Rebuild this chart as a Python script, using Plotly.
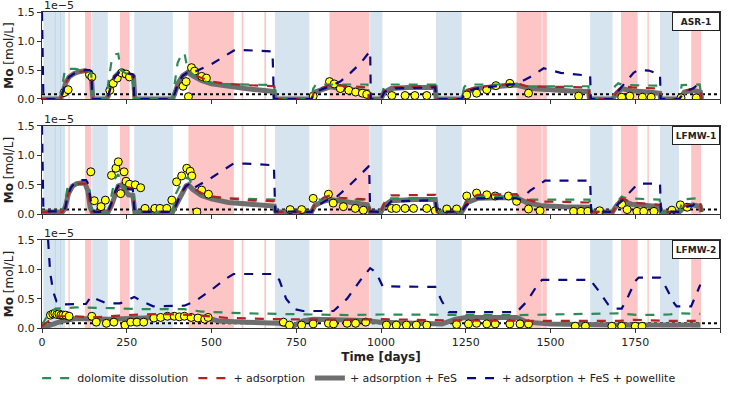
import plotly.graph_objects as go

# ---------------- data (Mo in units of 1e-5 mol/L, time in days) ----------------
wells = ["ASR-1", "LFMW-1", "LFMW-2"]

blue_band_start = [4, 38, 53, 148, 272, 687, 968, 1162, 1617, 1823]
blue_band_end = [40, 55, 68, 194, 386, 789, 1004, 1238, 1683, 1879]
red_band_start = [78, 127, 230, 432, 589, 656, 848, 1400, 1476, 1708, 1786, 1915]
red_band_end = [82, 145, 258, 566, 594, 661, 966, 1474, 1489, 1757, 1790, 1944]

detection_limit = 0.08

# ASR-1
asr1_dol_t = [0, 55, 62, 68, 100, 110, 128, 145, 150, 190, 196, 205, 215, 225, 232, 245, 265, 274, 385, 393, 400, 410, 420, 428, 440, 460, 490, 520, 600, 685, 688, 795, 800, 808, 960, 965, 1000, 1008, 1015, 1160, 1163, 1238, 1245, 1252, 1400, 1410, 1612, 1615, 1683, 1690, 1700, 1715, 1822, 1825, 1880, 1887, 1940, 1946]
asr1_dol_v = [0, 0, 0.3, 0.52, 0.52, 0.5, 0.5, 0.45, 0, 0, 0.3, 0.65, 0.77, 0.78, 0.5, 0.45, 0.4, 0, 0, 0.3, 0.62, 0.75, 0.8, 0.55, 0.45, 0.35, 0.28, 0.26, 0.25, 0.24, 0, 0, 0.18, 0.25, 0.25, 0, 0, 0.2, 0.25, 0.25, 0, 0, 0.2, 0.25, 0.25, 0.22, 0.22, 0, 0, 0.22, 0.27, 0.24, 0.23, 0, 0, 0.24, 0.25, 0]
asr1_ads_t = [0, 55, 62, 70, 80, 95, 110, 128, 145, 150, 190, 195, 205, 215, 228, 238, 250, 265, 274, 385, 392, 402, 415, 430, 445, 470, 500, 550, 600, 685, 688, 795, 805, 830, 850, 880, 960, 965, 1000, 1010, 1030, 1160, 1163, 1238, 1250, 1280, 1400, 1430, 1612, 1615, 1683, 1695, 1710, 1740, 1822, 1825, 1880, 1895, 1920, 1942, 1946]
asr1_ads_v = [0, 0, 0.12, 0.28, 0.38, 0.44, 0.47, 0.48, 0.45, 0, 0, 0.05, 0.25, 0.38, 0.46, 0.47, 0.44, 0.42, 0, 0, 0.1, 0.28, 0.4, 0.46, 0.42, 0.36, 0.3, 0.26, 0.24, 0.22, 0, 0, 0.15, 0.2, 0.25, 0.23, 0.2, 0, 0, 0.15, 0.2, 0.22, 0, 0, 0.15, 0.2, 0.27, 0.22, 0.2, 0, 0, 0.12, 0.22, 0.2, 0.18, 0, 0, 0.14, 0.18, 0.17, 0]
asr1_fes_t = [0, 55, 62, 70, 80, 95, 110, 128, 140, 146, 150, 190, 195, 205, 215, 228, 238, 250, 262, 270, 274, 385, 392, 402, 415, 430, 445, 470, 500, 550, 600, 650, 685, 688, 795, 805, 830, 850, 880, 920, 960, 965, 1000, 1010, 1030, 1080, 1160, 1163, 1238, 1250, 1280, 1350, 1400, 1440, 1500, 1560, 1612, 1615, 1683, 1695, 1710, 1740, 1790, 1822, 1825, 1880, 1895, 1920, 1942, 1946]
asr1_fes_v = [0, 0, 0.12, 0.28, 0.38, 0.44, 0.47, 0.49, 0.46, 0.35, 0, 0, 0.05, 0.25, 0.38, 0.46, 0.48, 0.42, 0.4, 0.38, 0, 0, 0.1, 0.28, 0.4, 0.46, 0.4, 0.32, 0.26, 0.21, 0.18, 0.15, 0.13, 0, 0, 0.12, 0.17, 0.21, 0.18, 0.15, 0.13, 0, 0, 0.12, 0.18, 0.2, 0.2, 0, 0, 0.12, 0.18, 0.22, 0.24, 0.18, 0.15, 0.14, 0.13, 0, 0, 0.1, 0.18, 0.14, 0.12, 0.1, 0, 0, 0.12, 0.15, 0.12, 0]
asr1_pow_t = [0, 4, 55, 62, 70, 80, 95, 110, 128, 140, 146, 148, 190, 195, 205, 215, 228, 238, 250, 265, 270, 272, 385, 392, 402, 415, 430, 440, 500, 570, 600, 680, 684, 795, 805, 830, 850, 880, 910, 940, 968, 970, 1000, 1010, 1030, 1160, 1163, 1238, 1250, 1280, 1350, 1400, 1440, 1480, 1500, 1530, 1617, 1619, 1683, 1695, 1720, 1745, 1758, 1790, 1823, 1825, 1880, 1895, 1920, 1942]
asr1_pow_v = [1.5, 0, 0, 0.12, 0.28, 0.38, 0.44, 0.47, 0.5, 0.5, 0.48, 0, 0, 0.05, 0.25, 0.38, 0.46, 0.48, 0.45, 0.43, 0.42, 0, 0, 0.1, 0.28, 0.4, 0.46, 0.44, 0.6, 0.85, 0.84, 0.82, 0, 0, 0.12, 0.17, 0.22, 0.3, 0.45, 0.62, 0.83, 0, 0, 0.12, 0.18, 0.2, 0, 0, 0.12, 0.18, 0.22, 0.26, 0.38, 0.53, 0.5, 0.45, 0.4, 0, 0, 0.1, 0.28, 0.45, 0.5, 0.49, 0.42, 0, 0, 0.12, 0.18, 0.28]
asr1_obs_t = [65, 77, 140, 147, 200, 210, 222, 235, 248, 258, 416, 425, 432, 441, 450, 471, 485, 800, 848, 862, 880, 905, 925, 945, 958, 1032, 1071, 1100, 1135, 1253, 1282, 1312, 1339, 1380, 1435, 1583, 1710, 1734, 1771, 1797, 1885, 1930]
asr1_obs_v = [0.11, 0.16, 0.42, 0.38, 0.15, 0.27, 0.36, 0.45, 0.43, 0.38, 0.22, 0.3, 0.04, 0.54, 0.48, 0.39, 0.36, 0.05, 0.3, 0.26, 0.18, 0.15, 0.12, 0.1, 0.08, 0.06, 0.06, 0.06, 0.06, 0.07, 0.1, 0.16, 0.23, 0.27, 0.1, 0.05, 0.03, 0.05, 0.03, 0.03, 0.02, 0.02]

# LFMW-1
lfmw1_dol_t = [0, 60, 68, 75, 85, 130, 140, 148, 195, 205, 215, 225, 232, 245, 268, 274, 385, 395, 410, 425, 435, 445, 470, 500, 550, 685, 690, 795, 802, 810, 960, 968, 1000, 1010, 1020, 1160, 1165, 1238, 1250, 1260, 1400, 1410, 1615, 1620, 1683, 1695, 1710, 1725, 1822, 1826, 1880, 1890, 1930, 1942, 1946]
lfmw1_dol_v = [0.04, 0.04, 0.2, 0.45, 0.5, 0.52, 0.45, 0.04, 0.04, 0.35, 0.6, 0.68, 0.55, 0.45, 0.42, 0.04, 0.04, 0.35, 0.52, 0.62, 0.6, 0.45, 0.35, 0.3, 0.27, 0.25, 0.04, 0.04, 0.2, 0.25, 0.25, 0.04, 0.04, 0.2, 0.27, 0.27, 0.04, 0.04, 0.22, 0.3, 0.3, 0.25, 0.25, 0.04, 0.04, 0.2, 0.3, 0.27, 0.25, 0.04, 0.04, 0.25, 0.27, 0.25, 0.04]
lfmw1_ads_t = [0, 60, 68, 78, 90, 102, 127, 135, 142, 148, 195, 205, 215, 225, 235, 245, 260, 268, 274, 385, 395, 410, 425, 432, 445, 470, 500, 550, 600, 685, 690, 795, 805, 830, 850, 880, 960, 968, 1000, 1010, 1030, 1160, 1165, 1238, 1255, 1285, 1400, 1410, 1450, 1615, 1620, 1683, 1695, 1710, 1740, 1822, 1826, 1880, 1895, 1920, 1942, 1946]
lfmw1_ads_v = [0.04, 0.04, 0.12, 0.35, 0.48, 0.52, 0.52, 0.45, 0.15, 0.04, 0.04, 0.15, 0.35, 0.48, 0.5, 0.47, 0.45, 0.43, 0.04, 0.04, 0.15, 0.35, 0.48, 0.5, 0.44, 0.36, 0.3, 0.27, 0.24, 0.22, 0.04, 0.04, 0.18, 0.28, 0.32, 0.28, 0.25, 0.04, 0.04, 0.2, 0.32, 0.33, 0.04, 0.04, 0.25, 0.33, 0.34, 0.28, 0.22, 0.2, 0.04, 0.04, 0.15, 0.27, 0.2, 0.16, 0.04, 0.04, 0.14, 0.18, 0.17, 0.04]
lfmw1_fes_t = [0, 60, 68, 78, 90, 102, 115, 127, 135, 142, 148, 195, 205, 215, 225, 235, 245, 255, 268, 274, 385, 395, 410, 425, 432, 445, 470, 500, 550, 600, 650, 685, 690, 795, 805, 830, 850, 880, 920, 960, 968, 1000, 1010, 1030, 1100, 1160, 1165, 1238, 1255, 1285, 1350, 1400, 1430, 1470, 1540, 1615, 1620, 1683, 1695, 1710, 1740, 1790, 1822, 1826, 1880, 1895, 1920, 1942, 1946]
lfmw1_fes_v = [0.04, 0.04, 0.1, 0.35, 0.48, 0.52, 0.53, 0.52, 0.4, 0.12, 0.04, 0.04, 0.15, 0.35, 0.48, 0.5, 0.42, 0.33, 0.32, 0.04, 0.04, 0.15, 0.35, 0.48, 0.5, 0.42, 0.32, 0.26, 0.2, 0.17, 0.15, 0.14, 0.04, 0.04, 0.15, 0.22, 0.25, 0.22, 0.18, 0.16, 0.04, 0.04, 0.15, 0.23, 0.25, 0.25, 0.04, 0.04, 0.2, 0.27, 0.28, 0.28, 0.2, 0.15, 0.13, 0.12, 0.04, 0.04, 0.15, 0.24, 0.17, 0.14, 0.13, 0.04, 0.04, 0.12, 0.16, 0.13, 0.04]
lfmw1_pow_t = [0, 4, 60, 68, 75, 85, 100, 115, 130, 138, 142, 148, 155, 195, 205, 215, 225, 235, 245, 258, 268, 272, 275, 385, 395, 410, 425, 432, 440, 500, 565, 600, 684, 688, 795, 805, 840, 870, 900, 930, 965, 968, 1000, 1010, 1030, 1160, 1165, 1238, 1250, 1285, 1400, 1410, 1440, 1484, 1617, 1620, 1683, 1695, 1710, 1735, 1758, 1823, 1826, 1880, 1895, 1920, 1942]
lfmw1_pow_v = [1.5, 0.05, 0.05, 0.08, 0.3, 0.45, 0.55, 0.58, 0.58, 0.5, 0.3, 0.1, 0.04, 0.04, 0.2, 0.38, 0.48, 0.5, 0.45, 0.42, 0.42, 0.1, 0.04, 0.04, 0.15, 0.35, 0.48, 0.5, 0.42, 0.62, 0.86, 0.86, 0.83, 0.05, 0.04, 0.12, 0.24, 0.3, 0.45, 0.62, 0.82, 0.05, 0.04, 0.1, 0.22, 0.24, 0.05, 0.04, 0.15, 0.27, 0.27, 0.25, 0.4, 0.57, 0.57, 0.05, 0.04, 0.15, 0.22, 0.38, 0.52, 0.52, 0.05, 0.04, 0.12, 0.15, 0.28]
lfmw1_obs_t = [144, 154, 174, 187, 205, 218, 225, 232, 242, 248, 258, 275, 291, 304, 333, 348, 368, 383, 397, 412, 427, 437, 442, 457, 471, 491, 732, 766, 800, 845, 859, 889, 924, 948, 1031, 1045, 1071, 1096, 1135, 1160, 1194, 1223, 1253, 1282, 1312, 1337, 1376, 1400, 1435, 1469, 1568, 1590, 1610, 1645, 1710, 1726, 1755, 1775, 1805, 1858, 1883, 1903]
lfmw1_obs_v = [0.72, 0.23, 0.13, 0.24, 0.66, 0.78, 0.89, 0.35, 0.72, 0.56, 0.51, 0.5, 0.45, 0.1, 0.1, 0.1, 0.1, 0.24, 0.55, 0.65, 0.78, 0.73, 0.65, 0.04, 0.41, 0.34, 0.08, 0.08, 0.27, 0.34, 0.19, 0.13, 0.1, 0.07, 0.1, 0.1, 0.1, 0.1, 0.1, 0.06, 0.09, 0.09, 0.31, 0.36, 0.33, 0.31, 0.31, 0.22, 0.09, 0.06, 0.05, 0.05, 0.05, 0.06, 0.17, 0.08, 0.05, 0.05, 0.05, 0.07, 0.16, 0.12]

# LFMW-2
lfmw2_dol_t = [0, 20, 40, 100, 200, 300, 420, 470, 600, 750, 900, 1000, 1200, 1400, 1500, 1650, 1700, 1760, 1850, 1880, 1942]
lfmw2_dol_v = [0.05, 0.25, 0.33, 0.35, 0.34, 0.32, 0.32, 0.28, 0.25, 0.24, 0.22, 0.23, 0.22, 0.22, 0.23, 0.24, 0.25, 0.22, 0.23, 0.25, 0.24]
lfmw2_ads_t = [0, 20, 50, 100, 150, 250, 350, 450, 550, 700, 900, 1000, 1200, 1400, 1500, 1700, 1750, 1850, 1942]
lfmw2_ads_v = [0.03, 0.12, 0.2, 0.2, 0.18, 0.22, 0.24, 0.22, 0.17, 0.15, 0.14, 0.15, 0.13, 0.12, 0.12, 0.12, 0.14, 0.12, 0.12]
lfmw2_fes_t = [0, 30, 60, 100, 200, 300, 400, 480, 520, 600, 700, 740, 770, 800, 950, 1000, 1180, 1220, 1250, 1400, 1430, 1500, 1700, 1942]
lfmw2_fes_v = [0.0, 0.05, 0.12, 0.16, 0.15, 0.17, 0.2, 0.18, 0.12, 0.1, 0.08, 0.03, 0.12, 0.15, 0.13, 0.1, 0.07, 0.15, 0.18, 0.18, 0.1, 0.07, 0.05, 0.05]
lfmw2_pow_t = [18, 24, 33, 43, 53, 130, 145, 165, 191, 230, 250, 272, 300, 328, 420, 450, 500, 540, 565, 682, 700, 720, 745, 770, 860, 900, 940, 968, 985, 1005, 1160, 1180, 1200, 1400, 1430, 1460, 1475, 1617, 1640, 1670, 1690, 1710, 1730, 1750, 1760, 1823, 1840, 1865, 1872, 1915, 1942]
lfmw2_pow_v = [1.5, 0.95, 0.62, 0.45, 0.4, 0.41, 0.54, 0.48, 0.42, 0.42, 0.47, 0.53, 0.44, 0.37, 0.38, 0.45, 0.65, 0.83, 0.92, 0.92, 0.82, 0.5, 0.32, 0.29, 0.29, 0.5, 0.82, 1.02, 0.95, 0.71, 0.7, 0.45, 0.27, 0.27, 0.45, 0.72, 0.82, 0.82, 0.65, 0.4, 0.33, 0.33, 0.55, 0.8, 0.86, 0.86, 0.7, 0.42, 0.37, 0.37, 0.74]
lfmw2_obs_t = [25, 32, 38, 44, 50, 56, 62, 70, 80, 147, 160, 190, 212, 245, 262, 280, 300, 330, 350, 370, 390, 405, 420, 440, 460, 480, 490, 712, 730, 766, 800, 845, 860, 900, 925, 955, 1016, 1045, 1075, 1104, 1135, 1223, 1258, 1282, 1312, 1337, 1380, 1410, 1435, 1573, 1603, 1681, 1710, 1750, 1770]
lfmw2_obs_v = [0.22, 0.24, 0.25, 0.23, 0.24, 0.22, 0.22, 0.22, 0.2, 0.2, 0.1, 0.08, 0.1, 0.05, 0.1, 0.1, 0.1, 0.17, 0.18, 0.2, 0.2, 0.19, 0.2, 0.18, 0.17, 0.15, 0.18, 0.1, 0.05, 0.05, 0.07, 0.08, 0.07, 0.08, 0.08, 0.1, 0.05, 0.05, 0.05, 0.05, 0.05, 0.06, 0.07, 0.08, 0.07, 0.07, 0.07, 0.07, 0.07, 0.03, 0.03, 0.03, 0.03, 0.03, 0.03]

series = [
    dict(dol=(asr1_dol_t, asr1_dol_v), ads=(asr1_ads_t, asr1_ads_v), fes=(asr1_fes_t, asr1_fes_v),
         pow=(asr1_pow_t, asr1_pow_v), obs=(asr1_obs_t, asr1_obs_v)),
    dict(dol=(lfmw1_dol_t, lfmw1_dol_v), ads=(lfmw1_ads_t, lfmw1_ads_v), fes=(lfmw1_fes_t, lfmw1_fes_v),
         pow=(lfmw1_pow_t, lfmw1_pow_v), obs=(lfmw1_obs_t, lfmw1_obs_v)),
    dict(dol=(lfmw2_dol_t, lfmw2_dol_v), ads=(lfmw2_ads_t, lfmw2_ads_v), fes=(lfmw2_fes_t, lfmw2_fes_v),
         pow=(lfmw2_pow_t, lfmw2_pow_v), obs=(lfmw2_obs_t, lfmw2_obs_v)),
]

legend_names = ["dolomite dissolution", "+ adsorption", "+ adsorption + FeS", "+ adsorption + FeS + powellite"]
x_ticks = [0, 250, 500, 750, 1000, 1250, 1500, 1750, 2000]
y_ticks = [0.0, 0.5, 1.0, 1.5]

# ---------------- styling ----------------
GREEN = "#2e8b57"
RED = "#b22222"
GRAY = "#6e6e6e"
NAVY = "#0a0a80"
FONT = "DejaVu Sans"
AXC = "#333333"

domains = [[0.7247, 1.0], [0.3598, 0.640], [0.0, 0.2785]]

fig = go.Figure()
shapes = []
annotations = []

for i, s in enumerate(series):
    xa = "x" if i == 0 else f"x{i+1}"
    ya = "y" if i == 0 else f"y{i+1}"
    for a, b in zip(blue_band_start, blue_band_end):
        shapes.append(dict(type="rect", xref=xa, yref=f"{ya} domain", x0=a, x1=b, y0=0, y1=1,
                           fillcolor="rgba(70,130,180,0.22)", line_width=0, layer="below"))
    for a, b in zip(red_band_start, red_band_end):
        shapes.append(dict(type="rect", xref=xa, yref=f"{ya} domain", x0=a, x1=b, y0=0, y1=1,
                           fillcolor="rgba(250,110,110,0.40)", line_width=0, layer="below"))
    show = (i == 0)
    fig.add_trace(go.Scatter(x=[0, 2000], y=[detection_limit, detection_limit], xaxis=xa, yaxis=ya,
                             mode="lines", line=dict(color="black", width=2, dash="dot"),
                             showlegend=False, hoverinfo="skip"))
    fig.add_trace(go.Scatter(x=s["fes"][0], y=s["fes"][1], xaxis=xa, yaxis=ya, mode="lines",
                             line=dict(color=GRAY, width=5), name=legend_names[2],
                             showlegend=show, legendrank=3))
    fig.add_trace(go.Scatter(x=s["obs"][0], y=s["obs"][1], xaxis=xa, yaxis=ya, mode="markers",
                             marker=dict(color="#ffff1a", size=8, line=dict(color="black", width=1)),
                             showlegend=False))
    fig.add_trace(go.Scatter(x=s["dol"][0], y=s["dol"][1], xaxis=xa, yaxis=ya, mode="lines",
                             line=dict(color=GREEN, width=2.2, dash="dash"), name=legend_names[0],
                             showlegend=show, legendrank=1))
    fig.add_trace(go.Scatter(x=s["ads"][0], y=s["ads"][1], xaxis=xa, yaxis=ya, mode="lines",
                             line=dict(color=RED, width=2.2, dash="dash"), name=legend_names[1],
                             showlegend=show, legendrank=2))
    fig.add_trace(go.Scatter(x=s["pow"][0], y=s["pow"][1], xaxis=xa, yaxis=ya, mode="lines",
                             line=dict(color=NAVY, width=2.2, dash="dash"), name=legend_names[3],
                             showlegend=show, legendrank=4))
    annotations.append(dict(text="1e\u22125", xref="paper", yref="paper", x=0, y=domains[i][1],
                            xanchor="left", yanchor="bottom", showarrow=False, yshift=-2,
                            font=dict(family=FONT, size=11, color="#222")))
    annotations.append(dict(text=f"<b>{wells[i]}</b>", xref="paper", yref="paper", x=1, y=domains[i][1],
                            xanchor="right", yanchor="top", showarrow=False, bgcolor="white",
                            bordercolor="#222", borderwidth=1, borderpad=1, width=44, height=15,
                            font=dict(family=FONT, size=9, color="#222")))

layout_axes = {}
for i in range(3):
    xk = "xaxis" if i == 0 else f"xaxis{i+1}"
    yk = "yaxis" if i == 0 else f"yaxis{i+1}"
    layout_axes[xk] = dict(domain=[0, 1], anchor="y" if i == 0 else f"y{i+1}", range=[0, 2000],
                           tickvals=x_ticks, showticklabels=(i == 2), ticks="outside", ticklen=4,
                           tickcolor=AXC, showline=True, linecolor=AXC, linewidth=1.2, mirror=True,
                           showgrid=False, zeroline=False, automargin=False,
                           tickfont=dict(family=FONT, size=11, color="#222"))
    layout_axes[yk] = dict(domain=domains[i], anchor="x" if i == 0 else f"x{i+1}", range=[0, 1.5],
                           tickvals=y_ticks, ticktext=[f"{v:.1f}" for v in y_ticks], ticks="outside",
                           ticklen=4, tickcolor=AXC, showline=True, linecolor=AXC, linewidth=1.2,
                           mirror=True, showgrid=False, zeroline=False, automargin=False,
                           tickfont=dict(family=FONT, size=11, color="#222"),
                           title=dict(text="<b>Mo</b> [mol/L]", font=dict(family=FONT, size=12, color="#222"),
                                      standoff=0))
layout_axes["xaxis3"]["title"] = dict(text="<b>Time [days]</b>", font=dict(family=FONT, size=12, color="#222"),
                                      standoff=4)

fig.update_layout(
    width=733, height=393,
    margin=dict(l=42, r=13, t=12, b=65, autoexpand=False),
    plot_bgcolor="white", paper_bgcolor="white",
    font=dict(family=FONT, size=11, color="#222"),
    shapes=shapes, annotations=annotations,
    legend=dict(orientation="h", xref="container", yref="container", x=0.49, xanchor="center",
                y=0.038, yanchor="middle",
                font=dict(family=FONT, size=11, color="#222"), itemwidth=30),
    **layout_axes,
)

fig.write_html("out.html", config={"displayModeBar": False},
               post_script="document.body.style.margin='0';document.body.style.overflow='hidden';")
